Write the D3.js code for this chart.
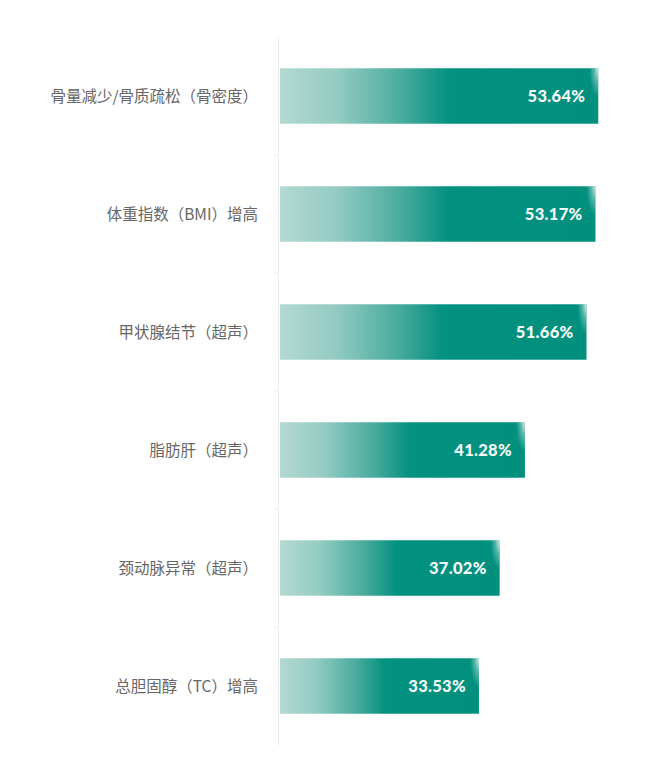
<!DOCTYPE html>
<html>
<head>
<meta charset="utf-8">
<script src="https://cdn.jsdelivr.net/npm/d3@7"></script>
<style>
  body { margin: 0; background: #fff; }
</style>
</head>
<body>
<div class="canvas"></div>
<script>
const categories = [
  "骨量减少/骨质疏松（骨密度）",
  "体重指数（BMI）增高",
  "甲状腺结节（超声）",
  "脂肪肝（超声）",
  "颈动脉异常（超声）",
  "总胆固醇（TC）增高"
];
const values = [53.64, 53.17, 51.66, 41.28, 37.02, 33.53];
const labels = ["53.64%", "53.17%", "51.66%", "41.28%", "37.02%", "33.53%"];

const dims = { width: 660, height: 783 };
const margin = { top: 37, left: 278, bottom: 38 };

const svg = d3
  .select(".canvas")
  .append("svg")
  .attr("width", dims.width)
  .attr("height", dims.height);

const x = d3.scaleLinear().domain([0, 60]).range([280, 636]);

const y = d3
  .scaleBand()
  .domain(categories)
  .range([margin.top, dims.height - margin.bottom])
  .paddingInner(0.53)
  .paddingOuter(0.265);

const defs = svg.append("defs");

// main fill: light on the left, teal from the middle on
const grad = defs
  .append("linearGradient")
  .attr("id", "barFill")
  .attr("x1", "0%")
  .attr("x2", "100%");
grad.append("stop").attr("offset", "0%").attr("stop-color", "#b3d9d2");
grad.append("stop").attr("offset", "18%").attr("stop-color", "#93cbc2");
grad.append("stop").attr("offset", "38%").attr("stop-color", "#4aac9e");
grad.append("stop").attr("offset", "53%").attr("stop-color", "#039180");
grad.append("stop").attr("offset", "100%").attr("stop-color", "#00907d");

// soft white shine at the top right corner
const shine = defs
  .append("radialGradient")
  .attr("id", "shine")
  .attr("cx", "100%")
  .attr("cy", "0%")
  .attr("r", "100%");
shine.append("stop").attr("offset", "0%").attr("stop-color", "#fff").attr("stop-opacity", 0.85);
shine.append("stop").attr("offset", "45%").attr("stop-color", "#fff").attr("stop-opacity", 0.35);
shine.append("stop").attr("offset", "100%").attr("stop-color", "#fff").attr("stop-opacity", 0);

// axis line + ticks between categories
const axis = d3
  .axisLeft(y)
  .tickSize(0)
  .tickFormat("");
const axisG = svg
  .append("g")
  .attr("transform", `translate(${margin.left},0)`)
  .call(axis);
axisG.select(".domain").attr("stroke", "#ececec");

const step = y.step();
svg
  .append("g")
  .selectAll("line")
  .data(categories.slice(1))
  .join("line")
  .attr("x1", margin.left - 4)
  .attr("x2", margin.left)
  .attr("y1", (d) => y(d) - step * y.paddingInner() / 2)
  .attr("y2", (d) => y(d) - step * y.paddingInner() / 2)
  .attr("stroke", "#ececec");

const rows = svg
  .append("g")
  .selectAll("g")
  .data(categories)
  .join("g");

rows
  .append("rect")
  .attr("x", x(0))
  .attr("y", (d) => y(d))
  .attr("width", (d, i) => x(values[i]) - x(0))
  .attr("height", y.bandwidth())
  .attr("fill", "url(#barFill)");

rows
  .append("rect")
  .attr("x", (d, i) => x(values[i]) - 9)
  .attr("y", (d) => y(d))
  .attr("width", 9)
  .attr("height", 30)
  .attr("fill", "url(#shine)");

rows
  .append("text")
  .attr("x", (d, i) => x(values[i]) - 13)
  .attr("y", (d) => y(d) + y.bandwidth() / 2)
  .attr("dy", "0.36em")
  .attr("text-anchor", "end")
  .attr("fill", "#f7fcfb")
  .style("font-family", "Lato, 'Open Sans', sans-serif")
  .style("font-weight", 900)
  .style("font-size", "16.5px")
  .style("letter-spacing", "0.3px")
  .text((d, i) => labels[i]);

rows
  .append("text")
  .attr("x", 258)
  .attr("y", (d) => y(d) + y.bandwidth() / 2)
  .attr("dy", "0.36em")
  .attr("text-anchor", "end")
  .attr("fill", "#666")
  .style("font-family", "'Noto Sans CJK SC', 'Noto Sans', sans-serif")
  .style("font-size", "15.5px")
  .text((d) => d);
</script>
</body>
</html>
